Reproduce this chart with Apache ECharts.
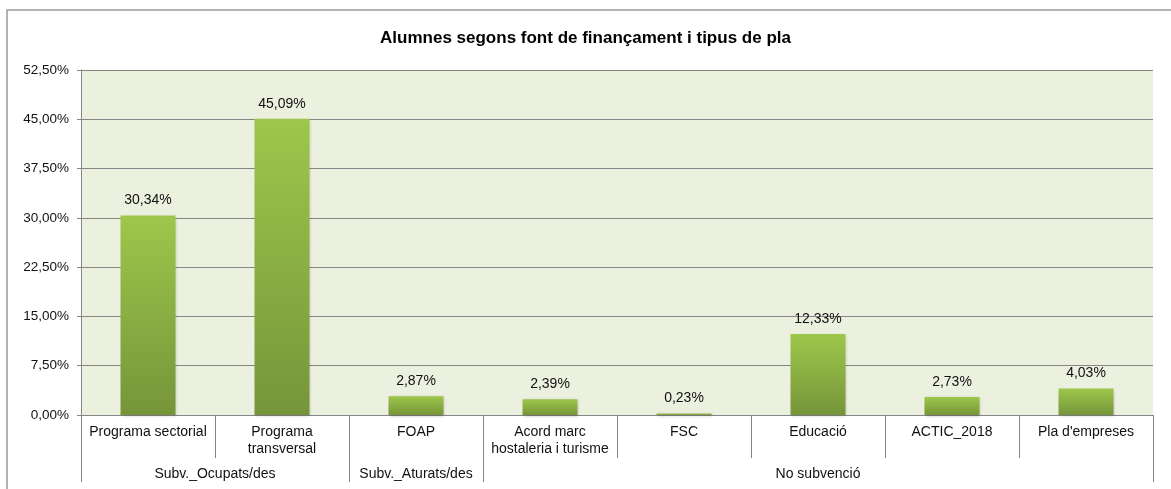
<!DOCTYPE html>
<html>
<head>
<meta charset="UTF-8">
<script src="https://cdn.jsdelivr.net/npm/echarts@6/dist/echarts.min.js"></script>
</head>
<body style="margin:0;background:#fff;">
<div id="chart" style="width:1171px;height:489px;"></div>
<script>
// dades
var categories = ['Programa sectorial', 'Programa\ntransversal', 'FOAP', 'Acord marc\nhostaleria i turisme', 'FSC', 'Educació', 'ACTIC_2018', "Pla d'empreses"];
var values = [30.34, 45.09, 2.87, 2.39, 0.23, 12.33, 2.73, 4.03];
var groups = ['Subv._Ocupats/des', 'Subv._Aturats/des', 'No subvenció'];
var groupSizes = [2, 1, 5];

// posicions dels grups (centre i límits) en unitats de categoria
var groupCenters = [], groupEdges = [0], acc = 0;
for (var i = 0; i < groupSizes.length; i++) {
    groupCenters.push(acc + groupSizes[i] / 2);
    acc += groupSizes[i];
    groupEdges.push(acc);
}
// límits entre categories (per als separadors curts)
var catEdges = [];
for (var j = 1; j < categories.length; j++) catEdges.push(j);

function pct(v) {
    return v.toFixed(2).replace('.', ',') + '%';
}

var chart = echarts.init(document.getElementById('chart'));
var font = 'Liberation Sans, Arial, sans-serif';
var option = {
    animation: false,
    textStyle: {fontFamily: font},
    title: {
        text: 'Alumnes segons font de finançament i tipus de pla',
        left: 'center',
        top: 25,
        textStyle: {fontSize: 17, fontWeight: 'bold', color: '#000', fontFamily: font}
    },
    graphic: [{
        type: 'rect',
        shape: {x: 7, y: 10, width: 1300, height: 600},
        style: {fill: 'none', stroke: '#9a9a9a', lineWidth: 1.5},
        silent: true
    }],
    grid: {
        left: 81, right: 18, top: 70, bottom: 74,
        show: true, backgroundColor: '#EBF0DF', borderWidth: 0
    },
    xAxis: [{
        type: 'category',
        data: categories,
        axisLine: {lineStyle: {color: '#868686', width: 1}},
        axisTick: {show: false},
        axisLabel: {interval: 0, margin: 9, fontSize: 14, color: '#111', lineHeight: 17, verticalAlign: 'top'}
    }, {
        type: 'value',
        min: 0,
        max: categories.length,
        position: 'bottom',
        axisLine: {show: false},
        splitLine: {show: false},
        axisTick: {show: true, customValues: groupEdges, length: 67, lineStyle: {color: '#868686'}},
        axisLabel: {
            customValues: groupCenters,
            margin: 52,
            fontSize: 14,
            color: '#111',
            formatter: function (v) {
                var k = groupCenters.indexOf(v);
                return k >= 0 ? groups[k] : '';
            }
        }
    }, {
        type: 'value',
        min: 0,
        max: categories.length,
        position: 'bottom',
        axisLine: {show: false},
        splitLine: {show: false},
        axisLabel: {show: false},
        axisTick: {show: true, customValues: catEdges, length: 43, lineStyle: {color: '#868686'}}
    }],
    yAxis: {
        type: 'value',
        min: 0,
        max: 52.5,
        interval: 7.5,
        axisLine: {show: true, lineStyle: {color: '#868686'}},
        axisTick: {show: true, length: 4, lineStyle: {color: '#868686'}},
        splitLine: {lineStyle: {color: '#868686', width: 1}},
        axisLabel: {fontSize: 13.5, color: '#111', margin: 12, formatter: pct}
    },
    series: [{
        type: 'bar',
        xAxisIndex: 0,
        data: values,
        barWidth: '41%',
        itemStyle: {
            color: new echarts.graphic.LinearGradient(0, 0, 0, 1, [
                {offset: 0, color: '#9DC74B'},
                {offset: 1, color: '#76953A'}
            ]),
            shadowColor: 'rgba(0,0,0,0.25)',
            shadowBlur: 3,
            shadowOffsetX: 1,
            shadowOffsetY: 1
        },
        label: {
            show: true,
            position: 'top',
            distance: 8,
            fontSize: 14,
            color: '#111',
            formatter: function (p) { return pct(p.value); }
        }
    }]
};
chart.setOption(option);
</script>
</body>
</html>
